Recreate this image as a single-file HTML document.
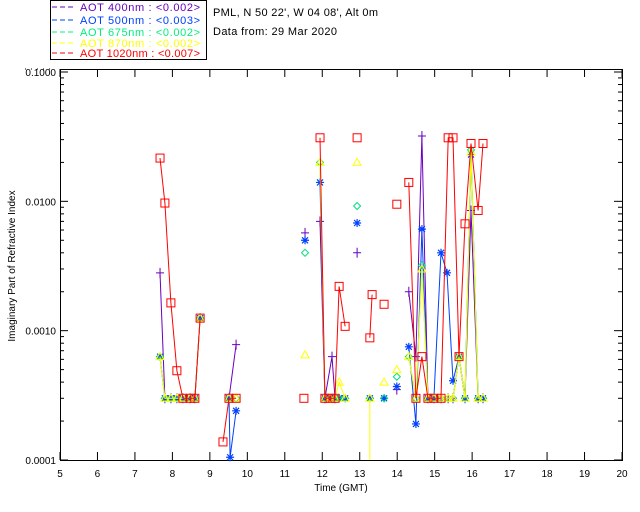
<!DOCTYPE html>
<html><head><meta charset="utf-8"><style>
body{margin:0;background:#fff;}
svg{display:block;font-family:"Liberation Sans",sans-serif;}
</style></head><body>
<svg id="chart" width="640" height="512">
<rect x="0" y="0" width="640" height="512" fill="#fff"/>
<g>
<rect x="50.5" y="0.5" width="156" height="59" fill="#fff" stroke="#000"/>
<g font-size="11">
<line x1="52" y1="7" x2="75" y2="7" stroke="#6a00c0" stroke-dasharray="5,3"/><text x="80" y="11" fill="#6a00c0" textLength="120">AOT  400nm : &lt;0.002&gt;</text>
<line x1="52" y1="20" x2="75" y2="20" stroke="#0040ff" stroke-dasharray="5,3"/><text x="80" y="24" fill="#0040ff" textLength="120">AOT  500nm : &lt;0.003&gt;</text>
<line x1="52" y1="32" x2="75" y2="32" stroke="#00f080" stroke-dasharray="5,3"/><text x="80" y="36" fill="#00f080" textLength="120">AOT  675nm : &lt;0.002&gt;</text>
<line x1="52" y1="43" x2="75" y2="43" stroke="#ffff00" stroke-dasharray="5,3"/><text x="80" y="47" fill="#ffff00" textLength="120">AOT  870nm : &lt;0.002&gt;</text>
<line x1="52" y1="53" x2="75" y2="53" stroke="#ff0000" stroke-dasharray="5,3"/><text x="80" y="57" fill="#ff0000" textLength="120">AOT 1020nm : &lt;0.007&gt;</text>
</g></g>
<text x="213" y="16" font-size="11" textLength="165">PML, N 50 22', W 04 08', Alt 0m</text>
<text x="213" y="35" font-size="11" textLength="124">Data from: 29 Mar 2020</text>
<line x1="25" y1="69" x2="55" y2="69" stroke="#000" stroke-dasharray="1,5"/>
<rect x="60.5" y="69.5" width="562" height="391" fill="none" stroke="#000"/>
<g id="axes"></g>
<g id="marks"></g>
<text x="341" y="491" font-size="10" text-anchor="middle">Time (GMT)</text>
<text transform="translate(15,266) rotate(-90)" font-size="10" text-anchor="middle">Imaginary Part of Refractive Index</text>
</svg>
<script>
const B=0.0003;
const xTicks=[5,6,7,8,9,10,11,12,13,14,15,16,17,18,19,20];
const yTicks=[0.1,0.01,0.001,0.0001];
const yTickLabels=["0.1000","0.0100","0.0010","0.0001"];
const t400=[7.67,7.80,7.96,8.12,8.28,8.47,8.60,8.74,null,9.51,9.70,null,11.54,null,11.94,12.07,12.26,12.34,null,12.93,null,13.99,null,14.31,14.50,14.66,14.82,14.98,15.17,15.36,15.49,15.65,15.81,15.97,16.16,16.29];
const v400=[0.0028,B,B,B,B,B,B,0.00125,null,B,0.00078,null,0.0057,null,0.0070,B,0.00063,B,null,0.0040,null,0.00035,null,0.0020,0.00063,0.032,B,B,B,B,B,0.00063,B,0.0085,B,B];
const t500=[7.67,7.80,7.96,8.12,8.28,8.47,8.60,8.74,null,9.51,9.54,9.70,null,11.54,null,11.94,12.07,12.21,12.34,12.45,12.61,null,12.93,null,13.27,null,13.65,null,13.99,null,14.31,14.50,14.66,14.82,14.98,15.17,15.33,15.49,15.65,15.81,15.97,16.16,16.29];
const v500=[0.00063,B,B,B,B,B,B,0.00125,null,B,0.000105,0.00024,null,0.0050,null,0.014,B,B,B,B,B,null,0.0068,null,B,null,B,null,0.00037,null,0.00075,0.00019,0.0061,B,B,0.0040,0.0028,0.00041,0.00063,B,0.023,B,B];
const t675=[7.67,7.80,7.96,8.12,8.28,8.47,8.60,8.74,null,9.51,9.70,null,11.54,null,11.94,12.07,12.21,12.34,12.45,12.61,null,12.93,null,13.27,null,13.65,null,13.99,null,14.31,14.50,14.66,14.82,14.98,15.17,15.36,15.49,15.65,15.81,15.97,16.16,16.29];
const v675=[0.00063,B,B,B,B,B,B,0.00125,null,B,B,null,0.0040,null,0.020,B,B,B,B,B,null,0.0092,null,B,null,B,null,0.00044,null,0.00063,B,0.0032,B,B,B,B,B,0.00063,B,0.025,B,B];
const t870=[7.67,7.80,7.96,8.12,8.28,8.47,8.60,8.74,null,9.51,9.70,null,11.54,null,11.94,12.07,12.21,12.34,12.45,12.61,null,12.93,null,13.27,13.27,null,13.65,null,13.99,null,14.31,14.50,14.66,14.82,14.98,15.17,15.36,15.49,15.65,15.81,15.97,16.16,16.29];
const v870=[0.00063,B,B,B,B,B,B,0.00125,null,B,B,null,0.00065,null,0.020,B,B,B,0.0004,B,null,0.020,null,B,0.0001,null,0.00040,null,0.00050,null,0.00063,B,0.0030,B,B,B,B,B,0.00063,B,0.024,B,B];
const t1020=[7.67,7.80,7.96,8.12,8.28,8.47,8.60,8.74,null,9.35,9.51,9.70,null,11.51,null,11.94,12.07,12.21,12.34,12.45,12.61,null,12.93,null,13.27,13.33,null,13.65,null,13.99,null,14.31,14.50,14.66,14.82,14.98,15.17,15.36,15.49,15.65,15.81,15.97,16.16,16.29];
const v1020=[0.0216,0.0097,0.00164,0.00049,B,B,B,0.00125,null,0.000138,B,B,null,B,null,0.031,B,B,B,0.0022,0.00108,null,0.031,null,0.00088,0.0019,null,0.0016,null,0.0095,null,0.014,B,0.00063,B,B,B,0.031,0.031,0.00063,0.0067,0.028,0.0085,0.028];

const NS="http://www.w3.org/2000/svg";
const X0=60,X1=622,Y0=72,Y1=460;
function xs(t){return X0+(t-5)/15*(X1-X0);}
function ys(v){return Y0+(-1-Math.log10(v))/3*(Y1-Y0);}
function mk(tag,attrs,parent){const e=document.createElementNS(NS,tag);for(const k in attrs)e.setAttribute(k,attrs[k]);parent.appendChild(e);return e;}
const axes=document.getElementById('axes');
xTicks.forEach((t,i)=>{
  const x=xs(t);
  mk('line',{x1:x,y1:Y1,x2:x,y2:Y1-8,stroke:'#000'},axes);
  mk('line',{x1:x,y1:69,x2:x,y2:77,stroke:'#000'},axes);
  const tx=mk('text',{x:x,y:477,'font-size':10,'text-anchor':'middle'},axes);
  tx.textContent=t;
  
  
});
yTicks.forEach((v,i)=>{
  const y=ys(v);
  mk('line',{x1:X0,y1:y,x2:X0+8,y2:y,stroke:'#000'},axes);
  mk('line',{x1:X1,y1:y,x2:X1-8,y2:y,stroke:'#000'},axes);
  const tx=mk('text',{x:56,y:y+4,'font-size':10,'text-anchor':'end'},axes);
  tx.textContent=yTickLabels[i];
  
  
  if(i<yTicks.length-1){for(let m=2;m<10;m++){const yy=ys(v/10*m);
    mk('line',{x1:X0,y1:yy,x2:X0+4,y2:yy,stroke:'#000'},axes);
    mk('line',{x1:X1,y1:yy,x2:X1-4,y2:yy,stroke:'#000'},axes);}}
});
const marks=document.getElementById('marks');
function drawSeries(ts,vs,color,shape,name){
  const g=mk('g',{},marks);
  
  
  let d='',pen=false;
  for(let i=0;i<ts.length;i++){
    if(ts[i]===null){pen=false;continue;}
    d+=(pen?'L':'M')+xs(ts[i]).toFixed(1)+' '+ys(vs[i]).toFixed(1)+' ';pen=true;
  }
  mk('path',{d:d,fill:'none',stroke:color,'stroke-width':1},g);
  for(let i=0;i<ts.length;i++){
    if(ts[i]===null||vs[i]<=0.0001)continue;
    const x=xs(ts[i]),y=ys(vs[i]);let e;
    if(shape==='plus')e=mk('path',{d:`M${x-4} ${y}H${x+4}M${x} ${y-5}V${y+5}`,stroke:color,'stroke-width':1,fill:'none'},g);
    else if(shape==='star')e=mk('path',{d:`M${x-4} ${y}H${x+4}M${x} ${y-4}V${y+4}M${x-3} ${y-3}L${x+3} ${y+3}M${x-3} ${y+3}L${x+3} ${y-3}`,stroke:color,'stroke-width':1.2,fill:'none'},g);
    else if(shape==='diamond')e=mk('path',{d:`M${x} ${y-3.5}L${x+3.5} ${y}L${x} ${y+3.5}L${x-3.5} ${y}Z`,stroke:color,'stroke-width':1,fill:'none'},g);
    else if(shape==='tri')e=mk('path',{d:`M${x} ${y-4}L${x+4} ${y+3}L${x-4} ${y+3}Z`,stroke:color,'stroke-width':1,fill:'none'},g);
    else e=mk('rect',{x:x-4,y:y-4,width:8,height:8,stroke:color,'stroke-width':1,fill:'none'},g);
    
    
  }
}
drawSeries(t400,v400,'#6a00c0','plus','series-400nm');
drawSeries(t500,v500,'#0040ff','star','series-500nm');
drawSeries(t675,v675,'#00e080','diamond','series-675nm');
drawSeries(t870,v870,'#ffff00','tri','series-870nm');
drawSeries(t1020,v1020,'#ff0000','square','series-1020nm');
</script>
</body></html>
